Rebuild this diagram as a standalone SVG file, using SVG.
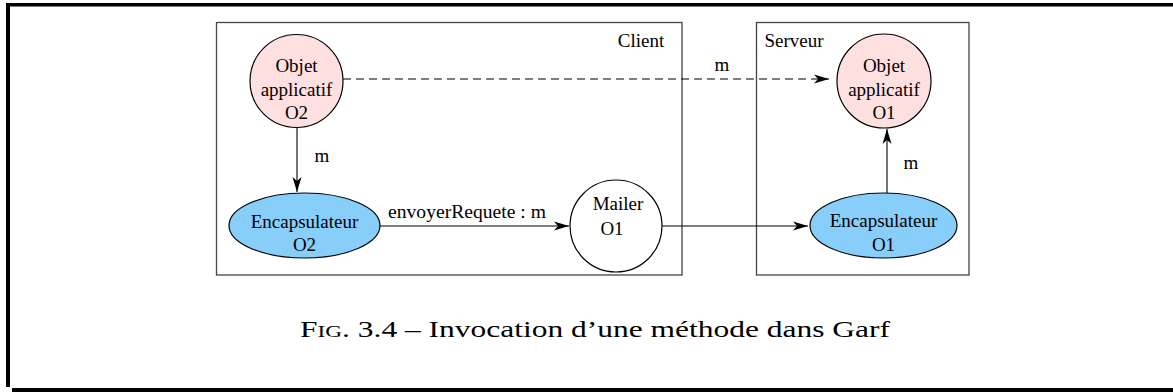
<svg xmlns="http://www.w3.org/2000/svg" width="1173" height="392" viewBox="0 0 1173 392">
<style>
.t{font-family:"Liberation Serif","Times New Roman",serif;font-size:19px;fill:#000}
.box{fill:none;stroke:#444;stroke-width:1.3}
.obj{fill:#ffe0e0;stroke:#000;stroke-width:1.2}
.enc{fill:#87cefa;stroke:#000;stroke-width:1.2}
.mail{fill:#fff;stroke:#000;stroke-width:1.2}
.c{fill:none;stroke:#000;stroke-width:1.1}
</style>
<defs>
<marker id="ah" markerWidth="16" markerHeight="10" refX="15" refY="5" orient="auto" markerUnits="userSpaceOnUse">
<path d="M0,0.5 L15,5 L0,9.5 L4,5 Z" fill="#000"/>
</marker>
</defs>
<rect width="1173" height="392" fill="#fff"/>
<g id="frame">
<rect x="6" y="3" width="1167" height="3.5" fill="#000"/>
<rect x="6" y="3" width="4" height="384" fill="#000"/>
<rect x="12" y="388" width="1161" height="4" fill="#000"/>
</g>
<g id="client">
<rect class="box" x="216.5" y="22.5" width="465.5" height="252.5"/>
<text class="t" x="641" y="47" text-anchor="middle">Client</text>
</g>
<g id="serveur">
<rect class="box" x="756.5" y="22.5" width="212.5" height="252.5"/>
<text class="t" x="794" y="47" text-anchor="middle">Serveur</text>
</g>
<g id="connectors">
<line class="c" x1="343" y1="79" x2="829" y2="79" stroke-dasharray="8,5" marker-end="url(#ah)"/>
<text class="t" x="722" y="71" text-anchor="middle">m</text>
<line class="c" x1="297" y1="128" x2="297" y2="192" marker-end="url(#ah)"/>
<text class="t" x="322" y="162" text-anchor="middle">m</text>
<line class="c" x1="380" y1="226" x2="569" y2="226" marker-end="url(#ah)"/>
<text class="t" x="467" y="218" text-anchor="middle" textLength="158" lengthAdjust="spacingAndGlyphs">envoyerRequete : m</text>
<line class="c" x1="662" y1="226" x2="808" y2="226" marker-end="url(#ah)"/>
<line class="c" x1="887" y1="193" x2="887" y2="129" marker-end="url(#ah)"/>
<text class="t" x="911" y="169" text-anchor="middle">m</text>
</g>
<g id="objetO2">
<circle class="obj" cx="296.5" cy="81" r="46.5"/>
<text class="t" x="296.5" y="72" text-anchor="middle">Objet</text>
<text class="t" x="296.5" y="96" text-anchor="middle">applicatif</text>
<text class="t" x="296.5" y="119" text-anchor="middle">O2</text>
</g>
<g id="encO2">
<ellipse class="enc" cx="304.5" cy="225.5" rx="75.5" ry="32.5"/>
<text class="t" x="304.5" y="228" text-anchor="middle">Encapsulateur</text>
<text class="t" x="304.5" y="251" text-anchor="middle">O2</text>
</g>
<g id="mailer">
<circle class="mail" cx="616" cy="226" r="46"/>
<text class="t" x="618" y="210" text-anchor="middle">Mailer</text>
<text class="t" x="612" y="235" text-anchor="middle">O1</text>
</g>
<g id="encO1">
<ellipse class="enc" cx="883.5" cy="225.5" rx="73.5" ry="32.5"/>
<text class="t" x="883.5" y="227" text-anchor="middle">Encapsulateur</text>
<text class="t" x="883.5" y="251" text-anchor="middle">O1</text>
</g>
<g id="objetO1">
<circle class="obj" cx="884" cy="81" r="47"/>
<text class="t" x="884" y="72" text-anchor="middle">Objet</text>
<text class="t" x="884" y="96" text-anchor="middle">applicatif</text>
<text class="t" x="884" y="119" text-anchor="middle">O1</text>
</g>
<g id="caption">
<text x="595" y="337" text-anchor="middle" font-family="'Liberation Serif','Times New Roman',serif" font-size="23" textLength="590" lengthAdjust="spacingAndGlyphs">F<tspan font-size="17">IG</tspan>. 3.4 – Invocation d’une méthode dans Garf</text>
</g>
</svg>
